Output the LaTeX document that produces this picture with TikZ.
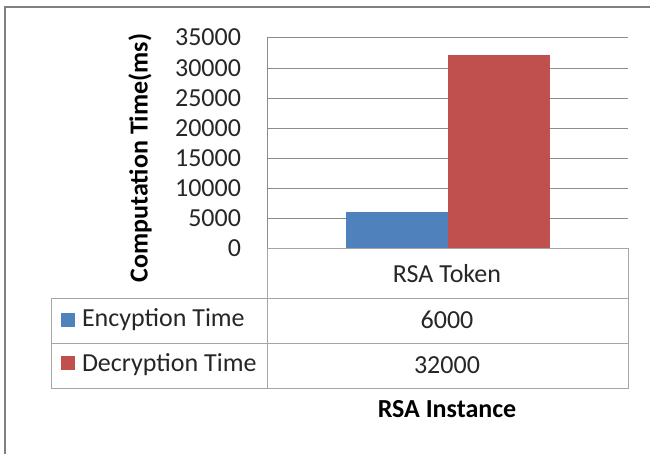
\documentclass[tikz,border=0pt]{standalone}
\usepackage{fontspec}
\setmainfont{Carlito}
\usepackage{tikz}
\definecolor{encblue}{HTML}{4F81BD}
\definecolor{decred}{HTML}{C0504D}

\begin{document}
\begin{tikzpicture}[x=1pt,y=-1pt]
		\tikzstyle{txt} = [inner sep=0, outer sep=0, font=\fontsize{26}{31}\selectfont, text=black!85]
		\tikzstyle{boldtxt} = [txt, font=\fontsize{26}{31}\selectfont\bfseries, text=black]
		\tikzstyle{gridline} = [draw=black!45, line width=1]
		\tikzstyle{tabline} = [draw=black!35, line width=1]
		\tikzstyle{frame} = [draw=black!50, line width=2]
		\tikzstyle{key} = [inner sep=0, outer sep=0, minimum size=14]
		\useasboundingbox (0,0) rectangle (650,454);
		\draw [frame] (5,454) -- (5,7) -- (650,7);
		% gridlines
		\draw [gridline] (267,38) -- (628,38);
		\draw [gridline] (267,68.1) -- (628,68.1);
		\draw [gridline] (267,98.3) -- (628,98.3);
		\draw [gridline] (267,128.4) -- (628,128.4);
		\draw [gridline] (267,158.6) -- (628,158.6);
		\draw [gridline] (267,188.7) -- (628,188.7);
		\draw [gridline] (267,218.9) -- (628,218.9);
		% bars
		\fill [encblue] (345.5,249) rectangle (448,212.5);
		\fill [decred] (448,249) rectangle (550,55);
		% axis and table
		\draw [gridline] (267,38) -- (267,249);
		\draw [tabline] (267,249) -- (628,249) -- (628,388) -- (51,388) -- (51,298) -- (628,298);
		\draw [tabline] (51,343) -- (628,343);
		\draw [tabline] (267,249) -- (267,388);
		\node [txt, anchor=base east] (v1) at (241,46) {35000};
		\node [txt, anchor=base east] (v2) at (241,76.1) {30000};
		\node [txt, anchor=base east] (v3) at (241,106.3) {25000};
		\node [txt, anchor=base east] (v4) at (241,136.4) {20000};
		\node [txt, anchor=base east] (v5) at (241,166.6) {15000};
		\node [txt, anchor=base east] (v6) at (241,196.7) {10000};
		\node [txt, anchor=base east] (v7) at (241,226.9) {5000};
		\node [txt, anchor=base east] (v8) at (241,257) {0};
		\node [boldtxt, rotate=90] (v9) at (140,158) {Computation Time(ms)};
		\node [txt, anchor=base] (v10) at (447,282) {RSA Token};
		\node [key, fill=encblue] (v11) at (67.5,319.5) {};
		\node [key, fill=decred] (v12) at (67.5,363) {};
		\node [txt, anchor=base west] (v13) at (82,326) {Encyption Time};
		\node [txt, anchor=base west] (v14) at (82,371) {Decryption Time};
		\node [txt, anchor=base] (v15) at (447,328) {6000};
		\node [txt, anchor=base] (v16) at (447,373) {32000};
		\node [boldtxt, anchor=base] (v17) at (447,417) {RSA Instance};
\end{tikzpicture}
\end{document}
